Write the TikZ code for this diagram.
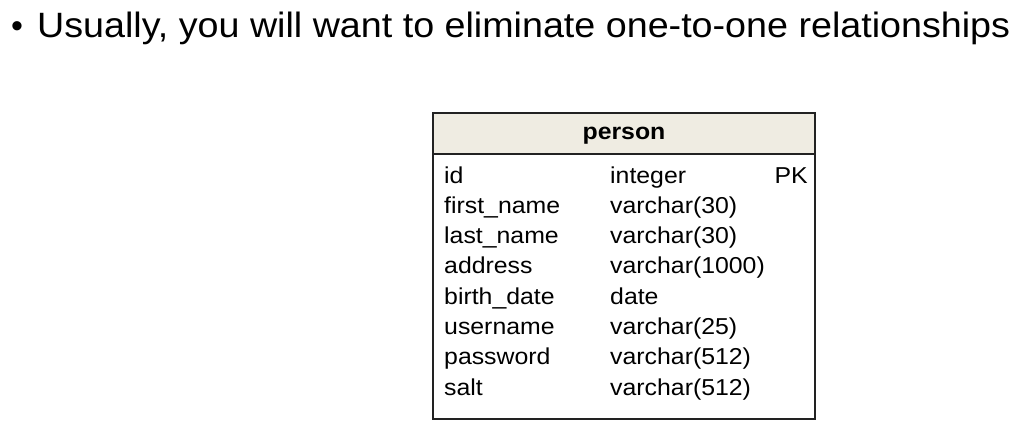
\documentclass[tikz,border=0pt]{standalone}
\usepackage{fontspec}
\usepackage{graphicx}
\setmainfont{Liberation Sans}
\definecolor{hdr}{RGB}{239,236,226}
\definecolor{edge}{RGB}{34,34,34}
\begin{document}
\begin{tikzpicture}[x=1pt,y=-1pt,
  cell/.style={inner sep=0pt,anchor=base west,font=\fontsize{23}{23}\selectfont},
  celr/.style={inner sep=0pt,anchor=base east,font=\fontsize{23}{23}\selectfont},
  ttl/.style={inner sep=0pt,anchor=base west}]
\useasboundingbox (0,0) rectangle (1018,432);
% title
\node[ttl,font=\fontsize{34}{34}\selectfont] (bul) at (11,37) {\textbullet};
\node[ttl] (title) at (37,37) {\resizebox{973pt}{25.5pt}{\fontsize{35}{35}\selectfont Usually, you will want to eliminate one-to-one relationships}};
% table
\path[fill=hdr] (433,113) rectangle (815,153.5);
\draw[edge,line width=2pt] (433,113) rectangle (815,419);
\draw[edge,line width=2pt] (433,153.5) -- (815,153.5);
\node[inner sep=0pt,anchor=base,font=\fontsize{23}{23}\selectfont\bfseries] (hd) at (624,139) {\scalebox{1.08}[1]{person}};
\foreach \n/\t [count=\i from 0] in {id/integer,first\_name/varchar(30),last\_name/varchar(30),address/varchar(1000),birth\_date/date,username/varchar(25),password/varchar(512),salt/varchar(512)}{
  \node[cell] (n\i) at (444,183+30.3*\i) {\scalebox{1.08}[1]{\n}};
  \node[cell] (t\i) at (610,183+30.3*\i) {\scalebox{1.08}[1]{\t}};
}
\node[celr] (pk) at (808,183) {\scalebox{1.08}[1]{PK}};
\end{tikzpicture}
\end{document}
